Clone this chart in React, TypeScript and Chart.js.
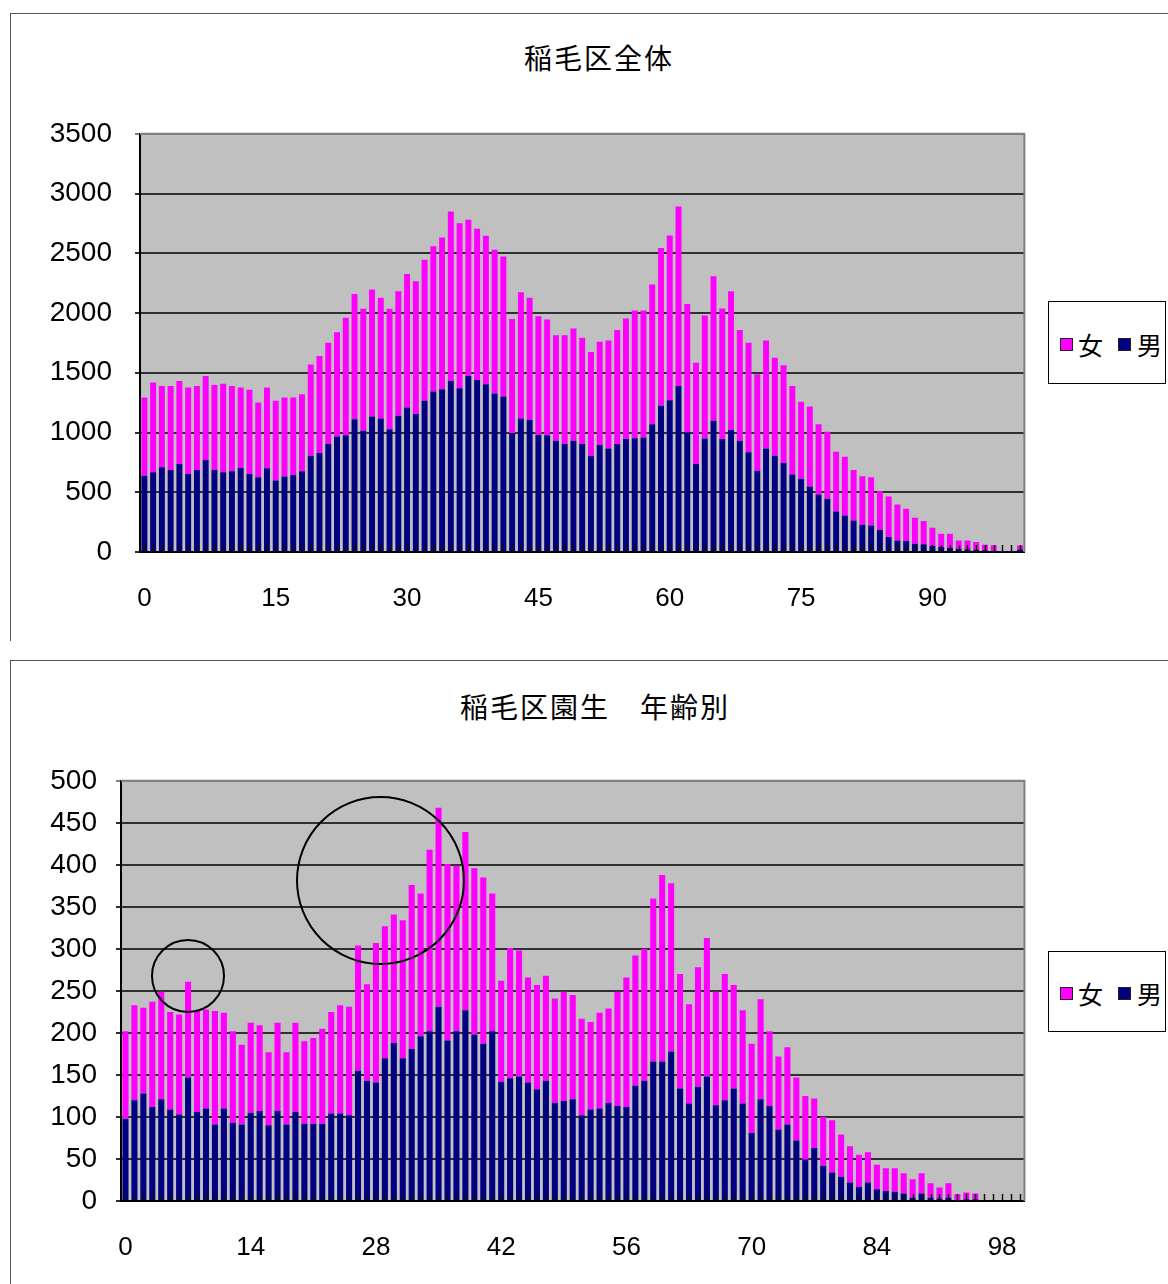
import React, { useEffect, useRef } from "react";
import { Chart, registerables } from "chart.js";
Chart.register(...registerables);

// ---------- data ----------
const ages: string[] = [
  "0","1","2","3","4","5","6","7","8","9","10","11","12","13","14","15","16","17","18","19",
  "20","21","22","23","24","25","26","27","28","29","30","31","32","33","34","35","36","37","38","39",
  "40","41","42","43","44","45","46","47","48","49","50","51","52","53","54","55","56","57","58","59",
  "60","61","62","63","64","65","66","67","68","69","70","71","72","73","74","75","76","77","78","79",
  "80","81","82","83","84","85","86","87","88","89","90","91","92","93","94","95","96","97","98","99","100",
];

// 稲毛区全体
const wardMale: number[] = [
  639, 667, 709, 687, 737, 653, 687, 770, 687, 667, 676, 703, 653, 626, 700, 598, 631, 645, 676, 806,
  828, 903, 967, 978, 1112, 1015, 1134, 1117, 1028, 1140, 1209, 1154, 1265, 1343, 1362, 1432, 1370, 1473, 1440, 1404,
  1326, 1301, 995, 1117, 1106, 981, 978, 931, 903, 931, 903, 806, 895, 867, 903, 945, 953, 959, 1070, 1223,
  1270, 1390, 1000, 736, 950, 1098, 945, 1020, 931, 834, 681, 867, 806, 745, 648, 612, 548, 481, 445, 339,
  306, 264, 228, 222, 186, 125, 97, 92, 70, 64, 50, 42, 33, 28, 22, 19, 14, 11, 3, 2, 20,
];
const wardFemale: number[] = [
  654, 751, 681, 703, 695, 723, 703, 703, 711, 742, 714, 673, 704, 625, 676, 667, 662, 648, 644, 764,
  812, 848, 873, 982, 1048, 1020, 1062, 1010, 1007, 1042, 1118, 1112, 1181, 1215, 1271, 1418, 1382, 1307, 1265, 1243,
  1204, 1173, 956, 1057, 1021, 993, 968, 882, 912, 940, 890, 868, 865, 904, 954, 1009, 1068, 1062, 1168, 1321,
  1379, 1501, 1076, 848, 1029, 1209, 1092, 1162, 926, 917, 806, 904, 820, 817, 742, 645, 670, 589, 561, 501,
  492, 423, 406, 403, 323, 339, 301, 269, 216, 195, 153, 111, 120, 69, 75, 64, 47, 45, 4, 3, 35,
];

// 稲毛区園生 年齢別
const sonnoMale: number[] = [
  98, 120, 128, 112, 121, 109, 103, 147, 106, 110, 91, 110, 93, 91, 105, 107, 90, 107, 91, 106,
  92, 92, 92, 104, 104, 102, 155, 143, 141, 170, 188, 170, 181, 196, 202, 231, 191, 202, 227, 198,
  187, 202, 142, 146, 148, 141, 133, 143, 117, 119, 121, 102, 109, 110, 117, 113, 112, 137, 143, 166,
  166, 178, 134, 116, 136, 148, 114, 120, 134, 116, 81, 121, 113, 85, 91, 72, 49, 63, 42, 34,
  29, 22, 17, 22, 14, 12, 11, 9, 4, 9, 4, 3, 4, 1, 2, 2, 0, 0, 0, 0, 0,
];
const sonnoFemale: number[] = [
  104, 113, 102, 125, 128, 116, 119, 114, 121, 118, 135, 114, 109, 95, 107, 102, 87, 105, 86, 106,
  98, 102, 113, 121, 129, 129, 149, 115, 166, 157, 153, 164, 195, 170, 216, 237, 210, 197, 212, 198,
  198, 164, 120, 155, 150, 125, 124, 125, 124, 130, 124, 115, 104, 114, 112, 136, 154, 155, 157, 194,
  222, 200, 136, 118, 142, 165, 135, 150, 123, 111, 106, 119, 89, 87, 92, 75, 76, 59, 58, 62,
  50, 43, 38, 36, 29, 27, 28, 24, 22, 24, 17, 13, 17, 7, 8, 7, 0, 0, 0, 0, 0,
];

const wardTicks: number[] = [0, 15, 30, 45, 60, 75, 90];
const sonnoTicks: number[] = [0, 14, 28, 42, 56, 70, 84, 98];

const FEMALE_COLOR = "#FF00FF";
const MALE_COLOR = "#000080";
const TICK_FONT = "'Liberation Sans', Arial, sans-serif";
const CJK_FONT = "'Noto Sans CJK JP', 'Noto Sans', sans-serif";

type ChartProps = {
  male: number[];
  female: number[];
  max: number;
  step: number;
  xTicks: number[];
  left: number;
  top: number;
  width: number;
  height: number;
  plotLeft: number;
  padTop: number;
  padRight: number;
  plotBottom: number;
  yPad: number;
};

const plotDecor = {
  id: "plotDecor",
  beforeDraw(chart: any) {
    const { ctx, chartArea } = chart;
    ctx.save();
    ctx.fillStyle = "#C0C0C0";
    ctx.fillRect(chartArea.left, chartArea.top, chartArea.right - chartArea.left, chartArea.bottom - chartArea.top);
    ctx.restore();
  },
  afterDatasetsDraw(chart: any) {
    const { ctx, chartArea, scales } = chart;
    const xs = scales.x;
    ctx.save();
    ctx.strokeStyle = "#101010";
    ctx.lineWidth = 1.5;
    for (let i = 0; i < chart.data.labels.length; i++) {
      const x = Math.round(xs.getPixelForValue(i)) + 0.5;
      ctx.beginPath();
      ctx.moveTo(x, chartArea.bottom);
      ctx.lineTo(x, chartArea.bottom - 7);
      ctx.stroke();
    }
    ctx.strokeStyle = "#808080";
    ctx.lineWidth = 2;
    ctx.beginPath();
    ctx.moveTo(chartArea.left, chartArea.top);
    ctx.lineTo(chartArea.right, chartArea.top);
    ctx.lineTo(chartArea.right, chartArea.bottom);
    ctx.stroke();
    ctx.restore();
  },
};

function PyramidBars(p: ChartProps) {
  const ref = useRef<HTMLCanvasElement | null>(null);
  useEffect(() => {
    if (!ref.current) return;
    const chart = new Chart(ref.current, {
      type: "bar",
      data: {
        labels: ages,
        datasets: [
          { label: "男", data: p.male, backgroundColor: MALE_COLOR, borderWidth: 0 },
          { label: "女", data: p.female, backgroundColor: FEMALE_COLOR, borderWidth: 0 },
        ],
      },
      options: {
        animation: false,
        responsive: false,
        maintainAspectRatio: false,
        layout: { padding: { left: 0, top: p.padTop, right: p.padRight, bottom: 0 } },
        datasets: { bar: { barPercentage: 0.68, categoryPercentage: 1 } },
        plugins: { legend: { display: false }, title: { display: false }, tooltip: { enabled: false } },
        scales: {
          x: {
            stacked: true,
            grid: { display: false },
            border: { display: true, color: "#000", width: 2 },
            ticks: {
              autoSkip: false,
              maxRotation: 0,
              minRotation: 0,
              padding: 23,
              color: "#000",
              font: { family: TICK_FONT, size: 26 },
              callback: (_v: any, i: number) => (p.xTicks.includes(i) ? ages[i] : ""),
            },
            afterFit: (s: any) => {
              s.height = p.height - p.plotBottom;
            },
          },
          y: {
            stacked: true,
            min: 0,
            max: p.max,
            grid: {
              color: (c: any) => (c.tick && c.tick.value === p.max ? "#808080" : "#303030"),
              lineWidth: 2,
              drawTicks: true,
              tickLength: 5,
            },
            border: { display: true, color: "#000", width: 2 },
            ticks: {
              stepSize: p.step,
              padding: p.yPad,
              color: "#000",
              font: { family: TICK_FONT, size: 28 },
              callback: (v: any) => String(v),
            },
            afterFit: (s: any) => {
              s.width = p.plotLeft;
            },
          },
        },
      },
      plugins: [plotDecor],
    });
    return () => chart.destroy();
  }, []);
  return (
    <canvas
      ref={ref}
      width={p.width}
      height={p.height}
      style={{ position: "absolute", left: p.left, top: p.top, width: p.width, height: p.height }}
    />
  );
}

function Legend({ top, height }: { top: number; height: number }) {
  const cy = height / 2;
  const marker = (x: number, color: string) => (
    <div
      style={{
        position: "absolute",
        left: x,
        top: cy - 6,
        width: 11,
        height: 11,
        background: color,
        border: "1px solid #222",
      }}
    />
  );
  const text = (x: number, t: string) => (
    <div
      style={{
        position: "absolute",
        left: x,
        top: cy - 17,
        height: 34,
        lineHeight: "34px",
        fontFamily: CJK_FONT,
        fontSize: 25,
        color: "#000",
      }}
    >
      {t}
    </div>
  );
  return (
    <div
      style={{
        position: "absolute",
        left: 1048,
        top,
        width: 118,
        height,
        boxSizing: "border-box",
        border: "1px solid #000",
        background: "#fff",
      }}
    >
      {marker(11, FEMALE_COLOR)}
      {text(29, "女")}
      {marker(69, MALE_COLOR)}
      {text(88, "男")}
    </div>
  );
}

function Title({ text, cx, cy }: { text: string; cx: number; cy: number }) {
  return (
    <div
      style={{
        position: "absolute",
        left: cx - 250,
        top: cy - 20,
        width: 500,
        height: 40,
        lineHeight: "40px",
        textAlign: "center",
        fontFamily: CJK_FONT,
        fontSize: 28,
        letterSpacing: 2,
        color: "#000",
        whiteSpace: "pre",
      }}
    >
      {text}
    </div>
  );
}

export default function App() {
  return (
    <div
      style={{
        position: "absolute",
        left: 0,
        top: 0,
        width: 1168,
        height: 1284,
        background: "#fff",
        overflow: "hidden",
      }}
    >
      {/* chart boxes */}
      <div
        style={{
          position: "absolute",
          left: 10,
          top: 13,
          width: 1170,
          height: 627,
          borderTop: "1.5px solid #555",
          borderLeft: "1.5px solid #555",
        }}
      />
      <div
        style={{
          position: "absolute",
          left: 10,
          top: 660,
          width: 1170,
          height: 640,
          borderTop: "1.5px solid #555",
          borderLeft: "1.5px solid #555",
        }}
      />

      <Title text="稲毛区全体" cx={599} cy={57} />
      <PyramidBars
        male={wardMale}
        female={wardFemale}
        max={3500}
        step={500}
        xTicks={wardTicks}
        left={0}
        top={94}
        width={1043}
        height={544}
        plotLeft={140}
        padTop={26}
        padRight={2}
        plotBottom={458}
        yPad={23}
      />
      <Legend top={301} height={83} />

      <Title text="稲毛区園生　年齢別" cx={595} cy={706} />
      <PyramidBars
        male={sonnoMale}
        female={sonnoFemale}
        max={500}
        step={50}
        xTicks={sonnoTicks}
        left={0}
        top={745}
        width={1043}
        height={539}
        plotLeft={121}
        padTop={26}
        padRight={2}
        plotBottom={456}
        yPad={19}
      />
      <Legend top={951} height={81} />

      {/* hand-drawn annotation circles */}
      <div
        style={{
          position: "absolute",
          left: 151,
          top: 939,
          width: 74,
          height: 74,
          boxSizing: "border-box",
          border: "2px solid #000",
          borderRadius: "50%",
        }}
      />
      <div
        style={{
          position: "absolute",
          left: 296,
          top: 796,
          width: 169,
          height: 169,
          boxSizing: "border-box",
          border: "2px solid #000",
          borderRadius: "50%",
        }}
      />
    </div>
  );
}
